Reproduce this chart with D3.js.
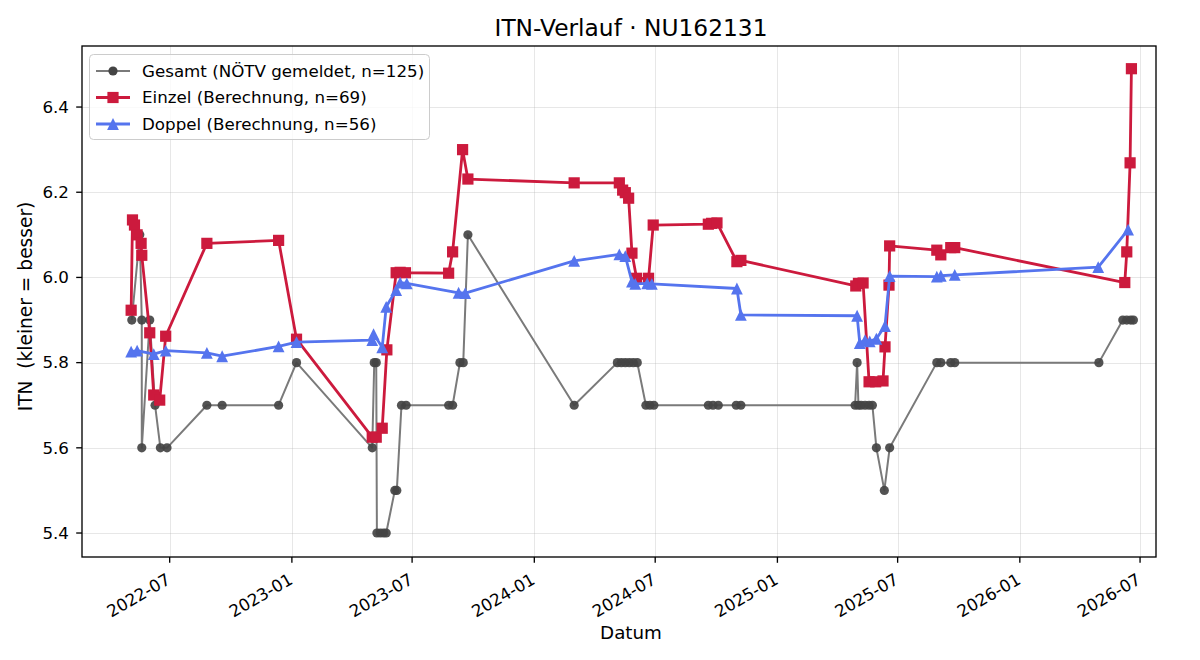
<!DOCTYPE html>
<html>
<head>
<meta charset="utf-8">
<script src="https://cdn.jsdelivr.net/npm/d3@7"></script>
<style>
  body { margin: 0; background: #fff; }
  svg { font-family: "DejaVu Sans", sans-serif; }
</style>
</head>
<body>
<div id="chart"></div>
<script>
// Gesamt (gray), reported ITN values
const gesamtDates = ["2022-05-05","2022-05-17","2022-05-20","2022-05-20","2022-06-01","2022-06-09","2022-06-17","2022-06-27",
  "2022-08-26","2022-09-18","2022-12-12","2023-01-08","2023-05-02","2023-05-05","2023-05-08","2023-05-09","2023-05-14",
  "2023-05-19","2023-05-23","2023-06-05","2023-06-08","2023-06-15","2023-06-22","2023-08-25","2023-08-31","2023-09-11",
  "2023-09-16","2023-09-23","2024-03-01","2024-05-05","2024-05-11","2024-05-17","2024-05-23","2024-05-29","2024-06-04",
  "2024-06-17","2024-06-23","2024-06-29","2024-09-19","2024-09-26","2024-10-04","2024-10-31","2024-11-07","2025-04-28",
  "2025-05-01","2025-05-03","2025-05-07","2025-05-13","2025-05-19","2025-05-24","2025-05-30","2025-06-11","2025-06-19",
  "2025-08-29","2025-09-04","2025-09-19","2025-09-25","2026-04-30","2026-06-05","2026-06-11","2026-06-17","2026-06-21"];
const gesamtValues = [5.9,6.1,5.9,5.6,5.9,5.7,5.6,5.6,
  5.7,5.7,5.7,5.8,5.6,5.8,5.8,5.4,5.4,
  5.4,5.4,5.5,5.5,5.7,5.7,5.7,5.7,5.8,
  5.8,6.1,5.7,5.8,5.8,5.8,5.8,5.8,5.8,
  5.7,5.7,5.7,5.7,5.7,5.7,5.7,5.7,5.7,
  5.8,5.7,5.7,5.7,5.7,5.7,5.6,5.5,5.6,
  5.8,5.8,5.8,5.8,5.8,5.9,5.9,5.9,5.9];

// Einzel (red)
const einzelDates = ["2022-05-04","2022-05-06","2022-05-09","2022-05-13","2022-05-19","2022-05-20","2022-06-01","2022-06-07",
  "2022-06-16","2022-06-25","2022-08-26","2022-12-12","2023-01-08","2023-05-02","2023-05-08","2023-05-17","2023-05-24",
  "2023-06-07","2023-06-13","2023-06-21","2023-08-25","2023-08-31","2023-09-15","2023-09-23","2024-03-01","2024-05-08",
  "2024-05-13","2024-05-17","2024-05-22","2024-05-27","2024-06-03","2024-06-21","2024-06-28","2024-09-19","2024-09-24",
  "2024-10-02","2024-11-01","2024-11-07","2025-04-29","2025-05-03","2025-05-10","2025-05-19","2025-05-29","2025-06-09",
  "2025-06-12","2025-06-18","2025-06-19","2025-08-29","2025-09-04","2025-09-19","2025-09-25","2026-06-08","2026-06-11",
  "2026-06-16","2026-06-18"];
const einzelValues = [5.923,6.135,6.123,6.10,6.08,6.052,5.87,5.724,
  5.712,5.862,6.08,6.087,5.855,5.625,5.625,5.646,5.83,
  6.011,6.012,6.011,6.01,6.06,6.30,6.231,6.222,6.222,
  6.205,6.199,6.186,6.057,5.998,5.998,6.123,6.125,6.127,
  6.128,6.037,6.04,5.98,5.986,5.987,5.755,5.755,5.757,
  5.837,5.982,6.074,6.064,6.053,6.07,6.07,5.988,6.06,
  6.269,6.49];

// Doppel (blue)
const doppelDates = ["2022-05-04","2022-05-13","2022-06-07","2022-06-25","2022-08-26","2022-09-18","2022-12-12","2023-01-08",
  "2023-05-02","2023-05-04","2023-05-17","2023-05-23","2023-06-07","2023-06-13","2023-06-23","2023-09-09","2023-09-19",
  "2024-03-01","2024-05-08","2024-05-17","2024-05-27","2024-06-01","2024-06-19","2024-06-26","2024-11-01","2024-11-07",
  "2025-05-01","2025-05-05","2025-05-13","2025-05-20","2025-05-30","2025-06-12","2025-06-19","2025-08-29","2025-09-04",
  "2025-09-25","2026-04-29","2026-06-13"];
const doppelValues = [5.826,5.828,5.82,5.828,5.823,5.815,5.838,5.848,
  5.853,5.867,5.836,5.931,5.97,5.988,5.986,5.964,5.963,
  6.039,6.054,6.05,5.99,5.985,5.986,5.985,5.974,5.912,
  5.91,5.846,5.853,5.85,5.856,5.886,6.003,6.002,6.004,
  6.006,6.024,6.112];

const yTicks = [5.4, 5.6, 5.8, 6.0, 6.2, 6.4];
const xTickDates = ["2022-07-01","2023-01-01","2023-07-01","2024-01-01","2024-07-01","2025-01-01","2025-07-01","2026-01-01","2026-07-01"];

const seriesNames = ["Gesamt (NÖTV gemeldet, n=125)", "Einzel (Berechnung, n=69)", "Doppel (Berechnung, n=56)"];

const parse = d3.timeParse("%Y-%m-%d");
const fmt = d3.timeFormat("%Y-%m");

const W = 1200, H = 660;
const m = {left: 82, right: 1156, top: 46, bottom: 557};

const svg = d3.select("#chart").append("svg")
  .attr("width", W).attr("height", H);

const x = d3.scaleTime()
  .domain([parse("2022-02-19"), parse("2026-07-25")])
  .range([m.left, m.right]);
const y = d3.scaleLinear()
  .domain([5.3437, 6.5433])
  .range([m.bottom, m.top]);

// grid
const grid = svg.append("g").attr("stroke", "#b0b0b0").attr("stroke-opacity", 0.3).attr("stroke-width", 1);
xTickDates.forEach(d => {
  const xx = Math.round(x(parse(d))) + 0.5;
  grid.append("line").attr("x1", xx).attr("x2", xx).attr("y1", m.top).attr("y2", m.bottom);
});
yTicks.forEach(v => {
  const yy = Math.round(y(v)) + 0.5;
  grid.append("line").attr("x1", m.left).attr("x2", m.right).attr("y1", yy).attr("y2", yy);
});

function toPoints(dates, values) {
  return dates.map((d, i) => ({date: parse(d), value: values[i]}));
}
const line = d3.line().x(d => x(d.date)).y(d => y(d.value));

const gesamt = toPoints(gesamtDates, gesamtValues);
const einzel = toPoints(einzelDates, einzelValues);
const doppel = toPoints(doppelDates, doppelValues);

const plot = svg.append("g");

// Gesamt
plot.append("path").datum(gesamt).attr("d", line)
  .attr("fill", "none").attr("stroke", "#7a7a7a").attr("stroke-width", 2).attr("stroke-linejoin", "round");
plot.selectAll(".g-dot").data(gesamt).enter().append("circle")
  .attr("cx", d => x(d.date)).attr("cy", d => y(d.value)).attr("r", 4.6)
  .attr("fill", "#444").attr("fill-opacity", 0.92);

// Einzel
const red = "#cc1a3d";
plot.append("path").datum(einzel).attr("d", line)
  .attr("fill", "none").attr("stroke", red).attr("stroke-width", 2.8).attr("stroke-linejoin", "round");
plot.selectAll(".e-sq").data(einzel).enter().append("rect")
  .attr("x", d => x(d.date) - 5.6).attr("y", d => y(d.value) - 5.6)
  .attr("width", 11.2).attr("height", 11.2).attr("fill", red);

// Doppel
const blue = "#5574ee";
const tri = "M0,-5.9L5.9,5.9L-5.9,5.9Z";
plot.append("path").datum(doppel).attr("d", line)
  .attr("fill", "none").attr("stroke", blue).attr("stroke-width", 2.8).attr("stroke-linejoin", "round");
plot.selectAll(".d-tri").data(doppel).enter().append("path")
  .attr("d", tri)
  .attr("transform", d => `translate(${x(d.date)},${y(d.value)})`)
  .attr("fill", blue);

// frame
svg.append("rect").attr("x", m.left).attr("y", m.top)
  .attr("width", m.right - m.left).attr("height", m.bottom - m.top)
  .attr("fill", "none").attr("stroke", "#000").attr("stroke-width", 1.33);

// y axis ticks
const yAx = svg.append("g");
yTicks.forEach(v => {
  const yy = y(v);
  yAx.append("line").attr("x1", m.left - 5.8).attr("x2", m.left).attr("y1", yy).attr("y2", yy)
    .attr("stroke", "#000").attr("stroke-width", 1.33);
  yAx.append("text").attr("x", m.left - 13).attr("y", yy).attr("dy", "0.35em")
    .attr("text-anchor", "end").attr("font-size", "16.7px").text(v.toFixed(1));
});

// x axis ticks
const xAx = svg.append("g");
xTickDates.forEach(d => {
  const xx = x(parse(d));
  xAx.append("line").attr("x1", xx).attr("x2", xx).attr("y1", m.bottom).attr("y2", m.bottom + 5.8)
    .attr("stroke", "#000").attr("stroke-width", 1.33);
  xAx.append("text")
    .attr("transform", `translate(${xx + 2},${m.bottom + 26}) rotate(-30)`)
    .attr("text-anchor", "end").attr("font-size", "16.7px").text(fmt(parse(d)));
});

// labels
svg.append("text").attr("x", (m.left + m.right) / 2 + 12).attr("y", 36)
  .attr("text-anchor", "middle").attr("font-size", "23.3px").text("ITN-Verlauf · NU162131");
svg.append("text").attr("x", (m.left + m.right) / 2 + 12).attr("y", 639)
  .attr("text-anchor", "middle").attr("font-size", "18.3px").text("Datum");
svg.append("text").attr("transform", `translate(32,${(m.top + m.bottom) / 2 + 5}) rotate(-90)`)
  .attr("text-anchor", "middle").attr("font-size", "18.6px")
  .style("white-space", "pre").text("ITN  (kleiner = besser)");

// legend
const lg = svg.append("g");
lg.append("rect").attr("x", 89.5).attr("y", 54.5).attr("width", 340).attr("height", 85)
  .attr("rx", 4).attr("fill", "#fff").attr("fill-opacity", 0.8).attr("stroke", "#cccccc");
const legendRows = [
  {color: "#7a7a7a", mark: "#444", type: "circle", width: 2},
  {color: red, mark: red, type: "square", width: 2.8},
  {color: blue, mark: blue, type: "tri", width: 2.8}
];
legendRows.forEach((r, i) => {
  const yy = 71 + i * 26.5;
  lg.append("line").attr("x1", 96).attr("x2", 130).attr("y1", yy).attr("y2", yy)
    .attr("stroke", r.color).attr("stroke-width", r.width);
  if (r.type === "circle") {
    lg.append("circle").attr("cx", 113).attr("cy", yy).attr("r", 4.6).attr("fill", r.mark);
  } else if (r.type === "square") {
    lg.append("rect").attr("x", 113 - 5.6).attr("y", yy - 5.6).attr("width", 11.2).attr("height", 11.2).attr("fill", r.mark);
  } else {
    lg.append("path").attr("d", tri).attr("transform", `translate(113,${yy})`).attr("fill", r.mark);
  }
  lg.append("text").attr("x", 142).attr("y", yy).attr("dy", "0.35em")
    .attr("font-size", "16.7px").text(seriesNames[i]);
});
</script>
</body>
</html>
